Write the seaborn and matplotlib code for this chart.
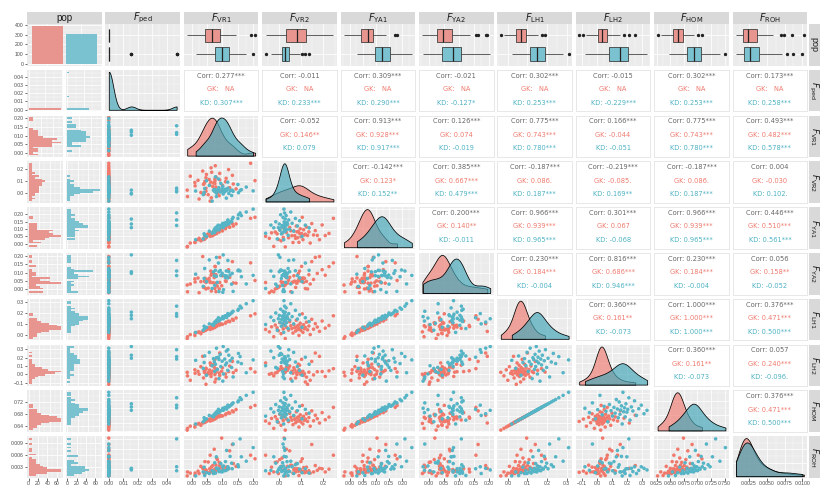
import numpy as np
import pandas as pd
import matplotlib
matplotlib.use("Agg")
import matplotlib.pyplot as plt
import seaborn as sns
from matplotlib.ticker import (FixedLocator, AutoMinorLocator, MaxNLocator,
                               StrMethodFormatter, NullLocator)

plt.rcParams["font.family"] = ["Liberation Sans", "DejaVu Sans"]
plt.rcParams["mathtext.fontset"] = "dejavusans"

# ---------------------------------------------------------------- data
pop_levels = ["GK", "KD"]
pop_counts = [390, 310]

var_names = ["F_ped", "F_VR1", "F_VR2", "F_YA1", "F_YA2", "F_LH1", "F_LH2", "F_HOM", "F_ROH"]
var_labels = [r"$F_{\mathrm{ped}}$", r"$F_{\mathrm{VR1}}$", r"$F_{\mathrm{VR2}}$",
              r"$F_{\mathrm{YA1}}$", r"$F_{\mathrm{YA2}}$", r"$F_{\mathrm{LH1}}$",
              r"$F_{\mathrm{LH2}}$", r"$F_{\mathrm{HOM}}$", r"$F_{\mathrm{ROH}}$"]

# GK individuals (representative sample)
gk_ped = [0.0] * 50
gk_lh1 = [-0.036, -0.020, -0.008, 0.000, 0.008, 0.014, 0.020, 0.025, 0.029, 0.032,
          0.035, 0.038, 0.041, 0.043, 0.045, 0.047, 0.049, 0.051, 0.053, 0.055,
          0.057, 0.059, 0.061, 0.063, 0.065, 0.067, 0.069, 0.071, 0.073, 0.075,
          0.077, 0.079, 0.081, 0.083, 0.085, 0.087, 0.090, 0.093, 0.096, 0.100,
          0.104, 0.108, 0.113, 0.118, 0.124, 0.131, 0.140, 0.152, 0.172, 0.190]
gk_hom = [0.6270, 0.6328, 0.6371, 0.6400, 0.6429, 0.6450, 0.6472, 0.6490, 0.6504, 0.6515,
          0.6526, 0.6537, 0.6548, 0.6555, 0.6562, 0.6569, 0.6576, 0.6584, 0.6591, 0.6598,
          0.6605, 0.6612, 0.6620, 0.6627, 0.6634, 0.6641, 0.6648, 0.6656, 0.6663, 0.6670,
          0.6677, 0.6684, 0.6692, 0.6699, 0.6706, 0.6713, 0.6724, 0.6735, 0.6746, 0.6760,
          0.6774, 0.6789, 0.6807, 0.6825, 0.6846, 0.6872, 0.6904, 0.6947, 0.7019, 0.7084]
gk_ya1 = [-0.0224, -0.0190, 0.0088, 0.0040, 0.0192, 0.0076, 0.0270, 0.0365, 0.0271, 0.0358,
          0.0285, 0.0472, 0.0399, 0.0557, 0.0405, 0.0503, 0.0591, 0.0419, 0.0587, 0.0545,
          0.0693, 0.0551, 0.0669, 0.0547, 0.0645, 0.0763, 0.0561, 0.0739, 0.0697, 0.0805,
          0.0693, 0.0801, 0.0879, 0.0697, 0.0835, 0.0793, 0.0950, 0.0867, 0.1034, 0.0890,
          0.1016, 0.0942, 0.1137, 0.1112, 0.1276, 0.1199, 0.1370, 0.1348, 0.1728, 0.1800]
gk_vr1 = [-0.0140, -0.0130, 0.0108, -0.0040, 0.0302, 0.0116, 0.0210, 0.0245, 0.0361, 0.0388,
          0.0415, 0.0432, 0.0469, 0.0467, 0.0415, 0.0603, 0.0481, 0.0469, 0.0567, 0.0685,
          0.0623, 0.0631, 0.0539, 0.0587, 0.0755, 0.0733, 0.0651, 0.0639, 0.0757, 0.0755,
          0.0813, 0.0791, 0.0789, 0.0767, 0.0715, 0.0893, 0.0910, 0.0997, 0.0974, 0.0910,
          0.1096, 0.0832, 0.1117, 0.1232, 0.1196, 0.1349, 0.1320, 0.1438, 0.1908, 0.2050]
gk_roh = [0.0007, 0.0017, 0.0008, 0.0014, 0.0031, 0.0014, 0.0019, 0.0013, 0.0026, 0.0017,
          0.0013, 0.0043, 0.0020, 0.0016, 0.0025, 0.0059, 0.0017, 0.0022, 0.0015, 0.0033,
          0.0020, 0.0017, 0.0042, 0.0025, 0.0019, 0.0074, 0.0021, 0.0029, 0.0017, 0.0024,
          0.0052, 0.0020, 0.0034, 0.0024, 0.0019, 0.0041, 0.0028, 0.0023, 0.0102, 0.0033,
          0.0023, 0.0048, 0.0029, 0.0070, 0.0025, 0.0038, 0.0086, 0.0031, 0.0059, 0.0050]
gk_vr2 = [0.027, -0.025, 0.089, 0.140, 0.008, 0.062, 0.107, -0.045, 0.182, 0.074,
          -0.004, 0.098, 0.042, 0.128, 0.083, -0.062, 0.155, 0.018, 0.114, 0.057,
          0.092, 0.208, -0.010, 0.070, 0.118, 0.032, 0.172, -0.035, 0.101, 0.080,
          0.013, 0.134, 0.052, 0.225, 0.086, -0.018, 0.110, 0.066, 0.022, 0.163,
          0.095, 0.002, 0.123, 0.047, 0.194, 0.077, 0.147, 0.037, 0.245, 0.104]
gk_lh2 = [0.025, -0.017, 0.055, -0.070, 0.092, 0.014, 0.036, 0.002, 0.215, -0.042,
          0.046, 0.019, 0.074, -0.118, 0.030, 0.137, -0.006, 0.061, 0.008, 0.040,
          0.110, -0.024, 0.023, 0.052, -0.090, 0.085, 0.032, 0.011, 0.180, -0.002,
          0.065, 0.027, -0.055, 0.043, 0.122, 0.017, -0.011, 0.079, 0.038, 0.255,
          0.005, 0.058, -0.032, 0.100, 0.034, 0.021, 0.155, 0.049, 0.069, 0.028]
gk_ya2 = [0.0253, -0.0149, 0.0618, 0.0315, 0.0456, 0.0437, 0.0673, -0.0204, 0.1953, 0.0109,
          0.0113, 0.0655, 0.0537, 0.0021, 0.0480, 0.0404, 0.0582, 0.0406, 0.0654, 0.0395,
          0.1085, 0.0838, 0.0067, 0.0486, 0.0045, 0.0698, 0.0946, -0.0105, 0.1365, 0.0369,
          0.0363, 0.0869, -0.0143, 0.1352, 0.0931, 0.0024, 0.0410, 0.0805, 0.0209, 0.1900,
          0.0503, 0.0189, 0.0469, 0.0715, 0.1167, 0.0381, 0.1648, 0.0365, 0.1575, 0.0524]

# KD individuals
kd_ped = [0.0, 0.0, 0.0, 0.0, 0.0, 0.0, 0.0, 0.0, 0.0, 0.0,
          0.0, 0.0, 0.0, 0.0, 0.0, 0.0, 0.0, 0.0, 0.0156, 0.0,
          0.0, 0.0, 0.0, 0.0, 0.0, 0.0469, 0.0, 0.0156, 0.0, 0.0,
          0.0469, 0.0, 0.0156, 0.0, 0.0, 0.0, 0.0, 0.0469, 0.0, 0.0]
kd_lh1 = [0.020, 0.040, 0.055, 0.067, 0.077, 0.085, 0.092, 0.098, 0.104, 0.109,
          0.114, 0.119, 0.124, 0.128, 0.132, 0.136, 0.139, 0.142, 0.145, 0.148,
          0.151, 0.154, 0.157, 0.160, 0.164, 0.168, 0.172, 0.176, 0.181, 0.186,
          0.192, 0.198, 0.205, 0.213, 0.222, 0.232, 0.244, 0.260, 0.282, 0.310]
kd_hom = [0.6472, 0.6544, 0.6598, 0.6641, 0.6677, 0.6706, 0.6731, 0.6753, 0.6774, 0.6792,
          0.6810, 0.6828, 0.6846, 0.6861, 0.6875, 0.6890, 0.6900, 0.6911, 0.6922, 0.6933,
          0.6944, 0.6954, 0.6965, 0.6976, 0.6990, 0.7005, 0.7019, 0.7034, 0.7052, 0.7070,
          0.7091, 0.7113, 0.7138, 0.7167, 0.7199, 0.7235, 0.7278, 0.7336, 0.7415, 0.7516]
kd_ya1 = [0.0266, 0.0322, 0.0569, 0.0493, 0.0671, 0.0823, 0.0708, 0.0854, 0.0761, 0.0970,
          0.0919, 0.1078, 0.0947, 0.1078, 0.0970, 0.1191, 0.1124, 0.1208, 0.1091, 0.1324,
          0.1178, 0.1261, 0.1365, 0.1268, 0.1389, 0.1240, 0.1432, 0.1343, 0.1562, 0.1481,
          0.1618, 0.1494, 0.1679, 0.1791, 0.1722, 0.1970, 0.1913, 0.2098, 0.2160, 0.2360]
kd_vr1 = [0.0133, 0.0378, 0.0425, 0.0484, 0.0407, 0.0708, 0.0666, 0.0573, 0.0749, 0.0736,
          0.0805, 0.0772, 0.0888, 0.0802, 0.0886, 0.0833, 0.0929, 0.0946, 0.1023, 0.0989,
          0.1032, 0.0869, 0.1132, 0.1124, 0.1011, 0.1072, 0.1096, 0.1204, 0.1170, 0.1245,
          0.1174, 0.1295, 0.1313, 0.1343, 0.1498, 0.1516, 0.1610, 0.1568, 0.1768, 0.1990]
kd_roh = [0.0007, 0.0017, 0.0008, 0.0015, 0.0029, 0.0013, 0.0020, 0.0013, 0.0040, 0.0017,
          0.0026, 0.0014, 0.0021, 0.0055, 0.0018, 0.0026, 0.0018, 0.0038, 0.0022, 0.0017,
          0.0032, 0.0025, 0.0071, 0.0021, 0.0030, 0.0020, 0.0043, 0.0026, 0.0024, 0.0056,
          0.0030, 0.0039, 0.0025, 0.0087, 0.0035, 0.0030, 0.0055, 0.0100, 0.0044, 0.0078]
kd_vr2 = [0.020, -0.009, 0.040, 0.103, 0.009, 0.026, -0.062, 0.065, 0.015, 0.033,
          0.003, 0.135, 0.023, -0.025, 0.047, 0.029, 0.011, 0.082, -0.004, 0.037,
          0.019, 0.118, 0.025, -0.038, 0.058, 0.013, 0.035, 0.000, 0.092, 0.022,
          0.043, -0.016, 0.027, 0.017, 0.073, 0.006, 0.031, 0.024, 0.052, 0.021]
kd_lh2 = [0.168, 0.072, 0.220, -0.010, 0.142, 0.188, 0.104, 0.263, 0.035, 0.153,
          0.313, 0.121, -0.050, 0.199, 0.178, 0.060, 0.239, 0.094, 0.333, 0.158,
          0.005, 0.205, 0.136, 0.278, -0.080, 0.183, 0.113, 0.229, 0.048, 0.163,
          0.295, 0.083, 0.193, -0.030, 0.148, 0.250, 0.129, 0.212, 0.020, 0.173]
kd_ya2 = [0.0900, 0.0175, 0.1240, 0.0455, 0.0645, 0.1040, 0.0050, 0.1750, 0.0230, 0.0810,
          0.1900, 0.1130, -0.0135, 0.0770, 0.1045, 0.0415, 0.1120, 0.0820, 0.2050, 0.0955,
          -0.0020, 0.1565, 0.0795, 0.1090, -0.0180, 0.0820, 0.0700, 0.1045, 0.0680, 0.0845,
          0.1720, 0.0305, 0.0950, -0.0125, 0.1105, 0.1150, 0.0750, 0.1090, 0.0320, 0.0830]

# axis breaks as printed on the chart
x_ticks = {"F_ped": [0.00, 0.01, 0.02, 0.03, 0.04],
           "F_VR1": [0.00, 0.05, 0.10, 0.15, 0.20],
           "F_VR2": [0.0, 0.1, 0.2],
           "F_YA1": [0.00, 0.05, 0.10, 0.15, 0.20],
           "F_YA2": [0.00, 0.05, 0.10, 0.15, 0.20],
           "F_LH1": [0.0, 0.1, 0.2, 0.3],
           "F_LH2": [-0.1, 0.0, 0.1, 0.2, 0.3],
           "F_HOM": [0.625, 0.650, 0.675, 0.700, 0.725, 0.750],
           "F_ROH": [0.0025, 0.0050, 0.0075, 0.0100]}
x_fmt = {"F_ped": "{x:.2f}", "F_VR1": "{x:.2f}", "F_VR2": "{x:.1f}", "F_YA1": "{x:.2f}",
         "F_YA2": "{x:.2f}", "F_LH1": "{x:.1f}", "F_LH2": "{x:.1f}", "F_HOM": "{x:.3f}",
         "F_ROH": "{x:.4f}"}
y_ticks = {"F_ped": [0.00, 0.01, 0.02, 0.03, 0.04, 0.05],
           "F_VR1": [0.00, 0.05, 0.10, 0.15, 0.20],
           "F_VR2": [0.0, 0.1, 0.2],
           "F_YA1": [0.00, 0.05, 0.10, 0.15, 0.20, 0.25],
           "F_YA2": [-0.05, 0.00, 0.05, 0.10, 0.15, 0.20],
           "F_LH1": [0.0, 0.1, 0.2, 0.3],
           "F_LH2": [-0.1, 0.0, 0.1, 0.2, 0.3],
           "F_HOM": [0.64, 0.68, 0.72],
           "F_ROH": [0.000, 0.003, 0.006, 0.009]}
y_fmt = {"F_ped": "{x:.2f}", "F_VR1": "{x:.2f}", "F_VR2": "{x:.1f}", "F_YA1": "{x:.2f}",
         "F_YA2": "{x:.2f}", "F_LH1": "{x:.1f}", "F_LH2": "{x:.1f}", "F_HOM": "{x:.2f}",
         "F_ROH": "{x:.3f}"}
count_ticks_bar = [0, 100, 200, 300, 400]

# correlation texts (upper triangle, row by row)
cor_all = {"F_ped": ["0.277***", "-0.011", "0.309***", "-0.021", "0.302***", "-0.015", "0.302***", "0.173***"],
           "F_VR1": ["-0.052", "0.913***", "0.126***", "0.775***", "0.166***", "0.775***", "0.493***"],
           "F_VR2": ["-0.142***", "0.385***", "-0.187***", "-0.219***", "-0.187***", "0.004"],
           "F_YA1": ["0.200***", "0.966***", "0.301***", "0.966***", "0.446***"],
           "F_YA2": ["0.230***", "0.816***", "0.230***", "0.056"],
           "F_LH1": ["0.360***", "1.000***", "0.376***"],
           "F_LH2": ["0.360***", "0.057"],
           "F_HOM": ["0.376***"]}
cor_gk = {"F_ped": ["  NA"] * 8,
          "F_VR1": ["0.146**", "0.928***", "0.074", "0.743***", "-0.044", "0.743***", "0.482***"],
          "F_VR2": ["0.123*", "0.667***", "0.086.", "-0.085.", "0.086.", "-0.030"],
          "F_YA1": ["0.140**", "0.939***", "0.067", "0.939***", "0.510***"],
          "F_YA2": ["0.184***", "0.686***", "0.184***", "0.158**"],
          "F_LH1": ["0.161**", "1.000***", "0.471***"],
          "F_LH2": ["0.161**", "0.240***"],
          "F_HOM": ["0.471***"]}
cor_kd = {"F_ped": ["0.307***", "0.233***", "0.290***", "-0.127*", "0.253***", "-0.229***", "0.253***", "0.258***"],
          "F_VR1": ["0.079", "0.917***", "-0.019", "0.780***", "-0.051", "0.780***", "0.578***"],
          "F_VR2": ["0.152**", "0.479***", "0.187***", "0.169**", "0.187***", "0.102."],
          "F_YA1": ["-0.011", "0.965***", "-0.068", "0.965***", "0.561***"],
          "F_YA2": ["-0.004", "0.946***", "-0.004", "-0.052"],
          "F_LH1": ["-0.073", "1.000***", "0.500***"],
          "F_LH2": ["-0.073", "-0.096."],
          "F_HOM": ["0.500***"]}

# ---------------------------------------------------------------- styling
RED, TEAL = "#F0796C", "#55B5C6"
RED_FILL, TEAL_FILL = "#E9958F", "#7AC2CF"
RED_DENS, TEAL_DENS = "#EE7E74", "#45A8B9"
BG, STRIP = "#EBEBEB", "#D9D9D9"

gk = pd.DataFrame({"pop": "GK", "F_ped": gk_ped, "F_VR1": gk_vr1, "F_VR2": gk_vr2,
                   "F_YA1": gk_ya1, "F_YA2": gk_ya2, "F_LH1": gk_lh1, "F_LH2": gk_lh2,
                   "F_HOM": gk_hom, "F_ROH": gk_roh})
kd = pd.DataFrame({"pop": "KD", "F_ped": kd_ped, "F_VR1": kd_vr1, "F_VR2": kd_vr2,
                   "F_YA1": kd_ya1, "F_YA2": kd_ya2, "F_LH1": kd_lh1, "F_LH2": kd_lh2,
                   "F_HOM": kd_hom, "F_ROH": kd_roh})
df = pd.concat([gk, kd], ignore_index=True)
df["w"] = np.where(df["pop"] == "GK", pop_counts[0] / len(gk), pop_counts[1] / len(kd))

W, H = 838, 495
fig = plt.figure(figsize=(W / 100, H / 100), dpi=100)
fig.patch.set_facecolor("white")

COL_X = [27.0 + 78.4 * j for j in range(10)]
COL_W = 74.6
ROW_Y = [24.0 + 45.8 * i for i in range(10)]
ROW_H = 41.6


def px_ax(x, y, w, h):
    return fig.add_axes([x / W, 1 - (y + h) / H, w / W, h / H])


lims = {}
for v in var_names:
    lo, hi = df[v].min(), df[v].max()
    pad = 0.05 * (hi - lo)
    lims[v] = (lo - pad, hi + pad)

TICK_KW = dict(length=1.8, width=0.5, color="#333333", labelsize=3.7,
               labelcolor="#4D4D4D", pad=0.8)


def finish(ax, left=False, bottom=False, grid=True, bg=BG):
    ax.set_facecolor(bg)
    for s in ax.spines.values():
        s.set_visible(False)
    ax.set_xlabel("")
    ax.set_ylabel("")
    ax.tick_params(axis="both", which="both", length=0, labelleft=False, labelbottom=False)
    if left:
        ax.tick_params(axis="y", which="major", labelleft=True, **TICK_KW)
    if bottom:
        ax.tick_params(axis="x", which="major", labelbottom=True, **TICK_KW)
    ax.set_axisbelow(True)
    if grid:
        ax.grid(True, which="major", color="white", linewidth=0.55)
        ax.grid(True, which="minor", color="white", linewidth=0.25)
    else:
        ax.grid(False)


def set_var_axis(axis, v, ticks=None, fmt=None):
    axis.set_major_locator(FixedLocator(x_ticks[v] if ticks is None else ticks))
    axis.set_major_formatter(StrMethodFormatter(x_fmt[v] if fmt is None else fmt))
    axis.set_minor_locator(AutoMinorLocator(2))


def set_count_axis(axis):
    axis.set_major_locator(MaxNLocator(nbins=4, steps=[1, 2, 2.5, 5, 10]))
    axis.set_major_formatter(StrMethodFormatter("{x:.0f}"))
    axis.set_minor_locator(AutoMinorLocator(2))


names = ["pop"] + var_names
N = len(names)
for i in range(N):
    for j in range(N):
        x0, y0 = COL_X[j], ROW_Y[i]
        bottom = (i == N - 1)
        if i == 0 and j == 0:
            ax = px_ax(x0, y0, COL_W, ROW_H)
            sns.barplot(x=pop_levels, y=pop_counts, hue=pop_levels,
                        palette=[RED_FILL, TEAL_FILL], width=0.9, saturation=1,
                        errorbar=None, legend=False, ax=ax)
            ax.set_xlim(-0.6, 1.6)
            ax.set_ylim(-0.05 * max(pop_counts), 1.05 * max(pop_counts))
            ax.yaxis.set_major_locator(FixedLocator(count_ticks_bar))
            ax.yaxis.set_major_formatter(StrMethodFormatter("{x:.0f}"))
            ax.yaxis.set_minor_locator(AutoMinorLocator(2))
            ax.xaxis.set_major_locator(FixedLocator([0, 1]))
            finish(ax, left=True)
        elif i == 0:
            v = names[j]
            ax = px_ax(x0, y0, COL_W, ROW_H)
            sns.boxplot(data=df, x=v, y="pop", hue="pop", order=pop_levels,
                        hue_order=pop_levels, palette=[RED_FILL, TEAL_FILL], orient="h",
                        width=0.72, linewidth=0.55, linecolor="#333333", fliersize=1.4,
                        saturation=1, showcaps=False,
                        flierprops=dict(marker="o", markerfacecolor="#222222",
                                        markeredgecolor="#222222"),
                        medianprops=dict(color="#222222", linewidth=0.9),
                        legend=False, ax=ax)
            ax.set_xlim(lims[v])
            ax.set_ylim(1.6, -0.6)
            set_var_axis(ax.xaxis, v)
            ax.yaxis.set_major_locator(FixedLocator([0, 1]))
            ax.yaxis.set_minor_locator(NullLocator())
            finish(ax)
        elif j == 0:
            v = names[i]
            NB = 22
            dmin, dmax = df[v].min(), df[v].max()
            edges = [float(e) for e in np.linspace(dmin, dmax, NB + 1)]
            cmax = 0
            for k in pop_levels:
                sub = df[df["pop"] == k]
                cnt, _ = np.histogram(sub[v], bins=edges, weights=sub["w"])
                cmax = max(cmax, cnt.max())
            sub_w = (COL_W - 2.5) / 2
            for g, k in enumerate(pop_levels):
                sub = df[df["pop"] == k]
                sa = px_ax(x0 + g * (sub_w + 2.5), y0, sub_w, ROW_H)
                sns.histplot(data=sub, y=v, weights="w", bins=edges,
                             color=[RED_FILL, TEAL_FILL][g], alpha=1, linewidth=0, ax=sa)
                sa.set_xlim(-0.05 * cmax, 1.05 * cmax)
                sa.set_ylim(lims[v])
                set_count_axis(sa.xaxis)
                set_var_axis(sa.yaxis, v, y_ticks[v], y_fmt[v])
                finish(sa, left=(g == 0), bottom=bottom)
        elif i == j:
            v = names[i]
            ax = px_ax(x0, y0, COL_W, ROW_H)
            for g, k in enumerate(pop_levels):
                vals = df.loc[df["pop"] == k, v]
                if vals.std() > 0:
                    sns.kdeplot(x=vals, fill=True, color=[RED_DENS, TEAL_DENS][g],
                                alpha=0.68, edgecolor="black", linewidth=0.55, cut=0,
                                bw_adjust=(0.5 if v == "F_ped" else 0.85), ax=ax)
            ax.set_xlim(lims[v])
            top = ax.get_ylim()[1]
            ax.set_ylim(-0.04 * top, top)
            set_var_axis(ax.xaxis, v)
            set_count_axis(ax.yaxis)
            finish(ax, bottom=bottom)
        elif i > j:
            vx, vy = names[j], names[i]
            ax = px_ax(x0, y0, COL_W, ROW_H)
            sns.scatterplot(data=df, x=vx, y=vy, hue="pop", hue_order=pop_levels,
                            palette=[RED, TEAL], s=6.5, linewidth=0, legend=False, ax=ax)
            ax.set_xlim(lims[vx])
            ax.set_ylim(lims[vy])
            set_var_axis(ax.xaxis, vx)
            set_var_axis(ax.yaxis, vy)
            finish(ax, bottom=bottom)
        else:
            vr = names[i]
            k = j - i - 1
            ax = px_ax(x0, y0, COL_W, ROW_H)
            ax.set_xticks([])
            ax.set_yticks([])
            ax.set_facecolor("white")
            for s in ax.spines.values():
                s.set_color("#E4E4E4")
                s.set_linewidth(0.6)
            ax.text(0.5, 0.86, "Corr: " + cor_all[vr][k], color="#666666", fontsize=4.8,
                    ha="center", va="center", transform=ax.transAxes, family="DejaVu Sans")
            ax.text(0.5, 0.54, "GK: " + cor_gk[vr][k], color="#EE7A6E", fontsize=4.8,
                    ha="center", va="center", transform=ax.transAxes, family="DejaVu Sans")
            ax.text(0.5, 0.21, "KD: " + cor_kd[vr][k], color="#4DB2C3", fontsize=4.8,
                    ha="center", va="center", transform=ax.transAxes, family="DejaVu Sans")

# strips
all_labels = ["pop"] + var_labels
for j, lab in enumerate(all_labels):
    sa = px_ax(COL_X[j], 12.3, COL_W, 11.2)
    sa.set_facecolor(STRIP)
    sa.set_xticks([])
    sa.set_yticks([])
    for s in sa.spines.values():
        s.set_visible(False)
    sa.text(0.5, 0.5, lab, ha="center", va="center", fontsize=(7 if j == 0 else 7),
            color="#1A1A1A", transform=sa.transAxes)
for i, lab in enumerate(all_labels):
    sa = px_ax(808.5, ROW_Y[i], 11.0, ROW_H)
    sa.set_facecolor(STRIP)
    sa.set_xticks([])
    sa.set_yticks([])
    for s in sa.spines.values():
        s.set_visible(False)
    sa.text(0.5, 0.5, lab, ha="center", va="center", rotation=-90,
            fontsize=(6.5 if i == 0 else 6.5), color="#1A1A1A", transform=sa.transAxes)

fig.savefig("out.png", dpi=100)
